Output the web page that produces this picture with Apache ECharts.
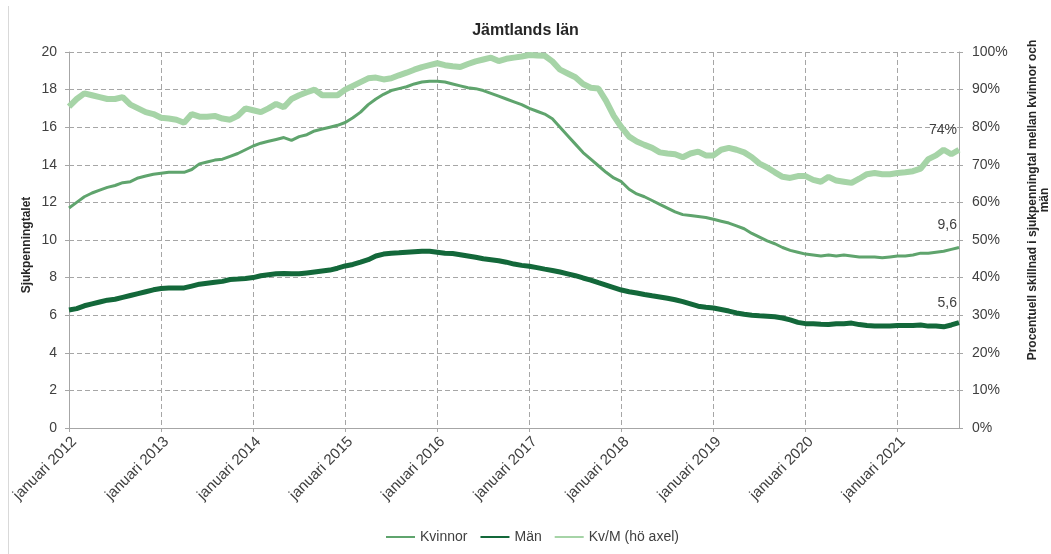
<!DOCTYPE html>
<html>
<head>
<meta charset="utf-8">
<script src="https://cdn.jsdelivr.net/npm/echarts@6/dist/echarts.min.js"></script>
<style>
  html, body { margin: 0; padding: 0; background: #ffffff; }
  #chart { width: 1051px; height: 554px; }
</style>
</head>
<body>
<div id="chart"></div>
<script>
// Monthly sickness rate (sjukpenningtal) in Jämtlands län, Jan 2012 – Sep 2021
const monthNames = ['januari', 'februari', 'mars', 'april', 'maj', 'juni',
  'juli', 'augusti', 'september', 'oktober', 'november', 'december'];
const years = [2012, 2013, 2014, 2015, 2016, 2017, 2018, 2019, 2020, 2021];
const lastMonthIndex = 8; // september 2021

const categories = [];
years.forEach(function (y) {
  monthNames.forEach(function (m, mi) {
    if (y === 2021 && mi > lastMonthIndex) return;
    categories.push(m + ' ' + y);
  });
});

// Kvinnor (left axis)
const kvinnor = [
  11.7, 12.0, 12.3, 12.5, 12.65, 12.8, 12.9, 13.05, 13.1, 13.3, 13.4, 13.5,
  13.55, 13.6, 13.6, 13.6, 13.75, 14.05, 14.15, 14.25, 14.3, 14.45, 14.6, 14.8,
  15.0, 15.15, 15.25, 15.35, 15.45, 15.3, 15.5, 15.6, 15.8, 15.9, 16.0, 16.1,
  16.25, 16.5, 16.8, 17.2, 17.5, 17.75, 17.95, 18.05, 18.15, 18.3, 18.4, 18.45,
  18.45, 18.4, 18.3, 18.2, 18.1, 18.05, 17.95, 17.8, 17.65, 17.5, 17.35, 17.2,
  17.0, 16.85, 16.7, 16.45, 16.0, 15.55, 15.1, 14.65, 14.3, 13.95, 13.6, 13.3,
  13.1, 12.7, 12.45, 12.3, 12.1, 11.9, 11.7, 11.5, 11.35, 11.3, 11.25, 11.2,
  11.1, 11.0, 10.9, 10.75, 10.6, 10.35, 10.15, 9.95, 9.8, 9.6, 9.45, 9.35,
  9.25, 9.2, 9.15, 9.2, 9.15, 9.2, 9.15, 9.1, 9.1, 9.1, 9.05, 9.1,
  9.15, 9.15, 9.2, 9.3, 9.3, 9.35, 9.4, 9.5, 9.6
];

// Män (left axis)
const man = [
  6.28, 6.35, 6.5, 6.6, 6.7, 6.8, 6.85, 6.95, 7.05, 7.15, 7.25, 7.35,
  7.42, 7.45, 7.45, 7.45, 7.55, 7.65, 7.7, 7.75, 7.8, 7.9, 7.92, 7.95,
  8.0, 8.1, 8.15, 8.2, 8.22, 8.2, 8.2, 8.25, 8.3, 8.35, 8.4, 8.5,
  8.62, 8.7, 8.82, 8.95, 9.15, 9.25, 9.3, 9.32, 9.35, 9.38, 9.4, 9.4,
  9.35, 9.3, 9.28, 9.22, 9.15, 9.08, 9.0, 8.95, 8.9, 8.82, 8.72, 8.65,
  8.6, 8.53, 8.45, 8.38, 8.3, 8.2, 8.1, 7.98, 7.87, 7.73, 7.6, 7.47,
  7.34, 7.25, 7.18, 7.1, 7.03, 6.97, 6.9, 6.82, 6.72, 6.6, 6.48, 6.42,
  6.38, 6.3, 6.22, 6.12, 6.05, 6.0, 5.97, 5.95, 5.92, 5.85, 5.75, 5.62,
  5.55, 5.55, 5.52, 5.5, 5.55, 5.55, 5.58, 5.5, 5.45, 5.42, 5.42, 5.42,
  5.45, 5.45, 5.45, 5.48, 5.42, 5.42, 5.38, 5.48, 5.6
];

// Kv/M, percentage difference between women and men (right axis)
const kvm = [
  85.5, 87.5, 89, 88.5, 88, 87.5, 87.5, 88, 86, 85, 84, 83.5,
  82.5, 82.3, 82, 81.2, 83.5, 82.8, 82.8, 83, 82.3, 82, 83, 85,
  84.5, 84, 85, 86.2, 85.3, 87.5, 88.5, 89.3, 90, 88.5, 88.5, 88.5,
  90, 91, 92, 93, 93.2, 92.7, 93, 93.8, 94.5, 95.3, 96, 96.5,
  97, 96.5, 96.2, 96, 96.8, 97.5, 98, 98.5, 97.6, 98.2, 98.5, 98.8,
  99.2, 99.1, 99, 97.5, 95.3, 94.3, 93.3, 91.5, 90.5, 90.3, 87, 83,
  80, 77.5, 76.2, 75.3, 74.5, 73.3, 73, 72.8, 72, 73, 73.5, 72.5,
  72.5, 74, 74.5, 74, 73.3, 72, 70.3, 69.3, 68, 66.8, 66.5, 67,
  67, 66, 65.5, 66.8, 65.8, 65.5, 65.2, 66.3, 67.5, 67.8, 67.5, 67.5,
  67.8, 68, 68.3, 69, 71.5, 72.5, 74, 72.8, 74
];

const leftTicks = { min: 0, max: 20, interval: 2 };
const rightTicks = { min: 0, max: 100, interval: 10 };

const textColor = '#404040';
const gridColor = '#a6a6a6';
const fontFamily = '"Liberation Sans", Arial, sans-serif';

const chart = echarts.init(document.getElementById('chart'), null, { renderer: 'canvas' });

function endLabel(fmt, dy) {
  return {
    show: true,
    formatter: fmt,
    color: textColor,
    fontSize: 14,
    fontFamily: fontFamily,
    align: 'right',
    verticalAlign: 'middle',
    offset: [-10, dy]
  };
}

function decimalComma(p) {
  return p.value.toFixed(1).replace('.', ',');
}

chart.setOption({
  animation: false,
  backgroundColor: '#ffffff',
  textStyle: { fontFamily: fontFamily },
  title: {
    text: 'Jämtlands län',
    left: 'center',
    top: 18,
    textStyle: { fontSize: 16, fontWeight: 'bold', color: '#262626', fontFamily: fontFamily }
  },
  legend: {
    left: 380,
    top: 525,
    itemWidth: 29,
    itemHeight: 14,
    itemGap: 12,
    itemStyle: { opacity: 0 },
    textStyle: { fontSize: 14, color: textColor, fontFamily: fontFamily },
    data: ['Kvinnor', 'Män', 'Kv/M (hö axel)']
  },
  grid: { left: 69, right: 92, top: 52, bottom: 126, containLabel: false },
  xAxis: {
    type: 'category',
    data: categories,
    boundaryGap: false,
    axisLine: { lineStyle: { color: gridColor, width: 1 } },
    axisTick: { show: true, interval: 11, length: 4, lineStyle: { color: gridColor } },
    axisLabel: {
      interval: 11,
      rotate: 45,
      fontSize: 15,
      color: textColor,
      margin: 6,
      verticalAlign: 'top'
    },
    splitLine: {
      show: true,
      interval: 11,
      lineStyle: { color: gridColor, type: [5, 3], width: 1 }
    }
  },
  yAxis: [
    {
      type: 'value',
      min: leftTicks.min,
      max: leftTicks.max,
      interval: leftTicks.interval,
      axisLine: { show: true, lineStyle: { color: gridColor } },
      axisTick: { show: true, length: 4, lineStyle: { color: gridColor } },
      axisLabel: { fontSize: 14, color: textColor, margin: 12 },
      splitLine: { show: true, lineStyle: { color: gridColor, type: [5, 3], width: 1 } }
    },
    {
      type: 'value',
      position: 'right',
      min: rightTicks.min,
      max: rightTicks.max,
      interval: rightTicks.interval,
      axisLine: { show: true, lineStyle: { color: gridColor } },
      axisTick: { show: true, length: 4, lineStyle: { color: gridColor } },
      axisLabel: { fontSize: 14, color: textColor, margin: 13, formatter: '{value}%' },
      splitLine: { show: false }
    }
  ],
  series: [
    {
      name: 'Kvinnor',
      type: 'line',
      yAxisIndex: 0,
      data: kvinnor,
      symbol: 'none',
      color: '#5fa46d',
      lineStyle: { width: 3, color: '#5fa46d' },
      z: 3,
      endLabel: endLabel(decimalComma, -22)
    },
    {
      name: 'Män',
      type: 'line',
      yAxisIndex: 0,
      data: man,
      symbol: 'none',
      color: '#13683a',
      lineStyle: { width: 5, color: '#13683a' },
      z: 4,
      endLabel: endLabel(decimalComma, -20)
    },
    {
      name: 'Kv/M (hö axel)',
      type: 'line',
      yAxisIndex: 1,
      data: kvm,
      symbol: 'none',
      color: '#a6d4a7',
      lineStyle: { width: 6, color: '#a6d4a7' },
      z: 2,
      endLabel: endLabel(function (p) { return Math.round(p.value) + '%'; }, -20)
    }
  ],
  graphic: [
    {
      type: 'line',
      shape: { x1: 8.5, y1: 6, x2: 8.5, y2: 554 },
      style: { stroke: '#d9d9d9', lineWidth: 1 },
      silent: true
    },
    {
      type: 'text',
      x: 27,
      y: 245,
      rotation: Math.PI / 2,
      style: {
        text: 'Sjukpenningtalet',
        font: 'bold 12px ' + fontFamily,
        fill: '#262626',
        align: 'center',
        verticalAlign: 'middle'
      },
      silent: true
    },
    {
      type: 'text',
      x: 1039,
      y: 200,
      rotation: Math.PI / 2,
      style: {
        text: 'Procentuell skillnad i sjukpenningtal mellan kvinnor och\nmän',
        font: 'bold 12px ' + fontFamily,
        fill: '#262626',
        align: 'center',
        verticalAlign: 'middle',
        lineHeight: 12
      },
      silent: true
    }
  ]
});
</script>
</body>
</html>
